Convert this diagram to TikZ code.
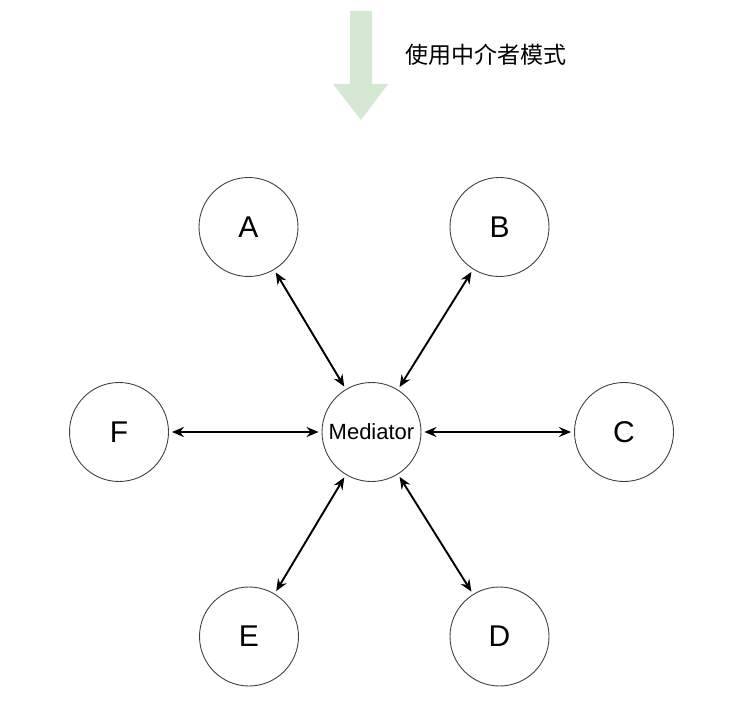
\documentclass[tikz,border=0pt]{standalone}
\usepackage{fontspec}
\setmainfont{Liberation Sans}
\newfontfamily\cjk{Noto Sans CJK SC}
\usetikzlibrary{arrows.meta}
\definecolor{hintgreen}{HTML}{D5E8D4}
\tikzset{%
  peer/.style     = {shape=circle, draw=black!75, line width=0.9pt,%
                     minimum size=99pt, inner sep=0pt,%
                     font=\fontsize{30}{33}\selectfont},%
  hub/.style      = {peer, font=\fontsize{22}{24}\selectfont},%
  link/.style     = {{Stealth[length=12pt,width=10pt,inset=4pt]}-{Stealth[length=12pt,width=10pt,inset=4pt]},%
                     line width=1.9pt, shorten <=3pt, shorten >=3pt}%
}
\begin{document}
\begin{tikzpicture}[x=1pt,y=-1pt]
	\useasboundingbox (0,0) rectangle (747,714);
	% hint arrow and caption
	\fill [hintgreen] (350,11) -- (372,11) -- (372,84) -- (388,84)
		-- (361,120) -- (333,84) -- (350,84) -- cycle;
	\node (title) at (486,55) {\cjk\fontsize{23}{28}\selectfont 使用中介者模式};
	% the mediator and its colleagues
	\node [hub]  (M) at (371.5,432) {Mediator};
	\node [peer] (A) at (248.5,227) {A};
	\node [peer] (B) at (499.5,227) {B};
	\node [peer] (C) at (624,432) {C};
	\node [peer] (D) at (499.5,636.5) {D};
	\node [peer] (E) at (249,636.5) {E};
	\node [peer] (F) at (119,432) {F};
	\foreach \p in {A,B,C,D,E,F}
		\draw [link] (\p) -- (M);
\end{tikzpicture}
\end{document}
